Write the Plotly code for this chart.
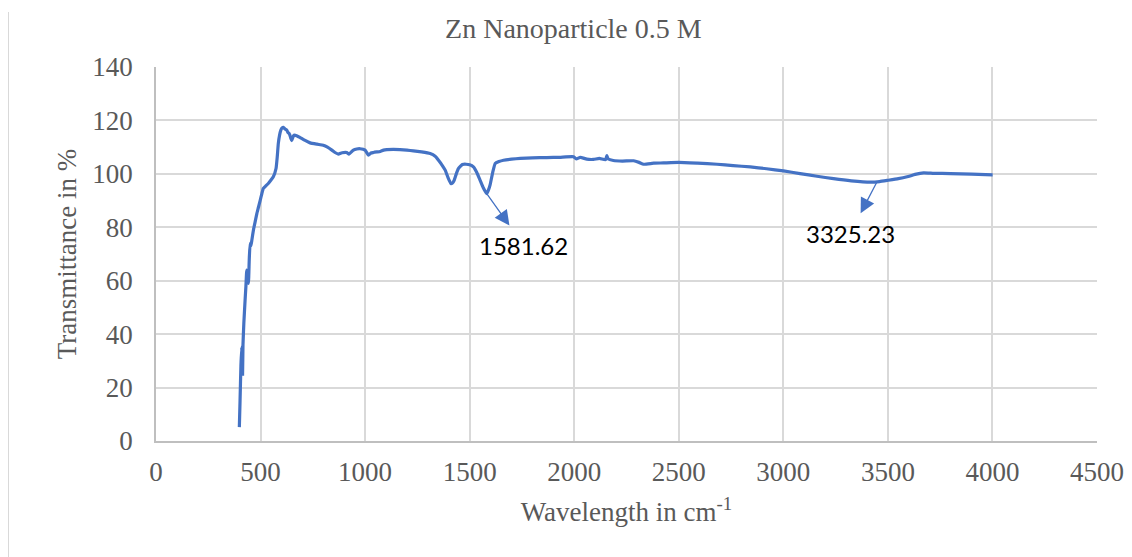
import numpy as np
import plotly.graph_objects as go

# Spectrum values
wavenumber = [398.6, 402, 406, 410, 414, 416, 420, 426, 430, 434, 438, 442, 446, 450, 454, 458,
              466, 474, 482, 490, 498, 506, 513, 525, 537, 549, 561, 574, 580, 585, 591, 597,
              603, 609, 617, 625, 631, 638, 644, 649, 655, 660, 675, 689, 713, 737, 770, 800,
              820, 841, 856, 872, 890, 912, 923, 944, 960, 976, 1000, 1016, 1028, 1040, 1056,
              1072, 1088, 1104, 1135, 1167, 1200, 1231, 1270, 1311, 1335, 1351, 1367, 1383,
              1397, 1410, 1418, 1426, 1436, 1446, 1465, 1483, 1500, 1518, 1534, 1550, 1565,
              1581.62, 1590, 1598, 1610, 1622, 1640, 1662, 1700, 1742, 1800, 1869, 1930, 1997,
              2010, 2029, 2060, 2092, 2120, 2150, 2156, 2162, 2187, 2230, 2284, 2310, 2332,
              2380, 2427, 2499, 2590, 2683, 2760, 2842, 2920, 3001, 3080, 3161, 3240, 3325.23,
              3416, 3460, 3501, 3550, 3592, 3630, 3671, 3720, 3799, 3900, 4001]
transmittance = [5.2, 15.2, 28.0, 35.2, 25.0, 36.0, 44.0, 52.7, 58.0, 64.0, 61.0, 59.0, 68.0,
                 74.0, 73.0, 75.0, 79.0, 82.0, 85.0, 87.5, 90.0, 92.5, 94.5, 95.5, 96.4, 97.6,
                 98.9, 102.0, 106.5, 111.4, 114.5, 116.4, 117.2, 117.4, 116.8, 116.4, 115.5,
                 115.0, 113.5, 112.4, 113.8, 114.5, 114.2, 113.6, 112.5, 111.6, 111.1, 110.7,
                 110.0, 108.9, 108.0, 107.4, 107.9, 108.0, 107.4, 108.9, 109.3, 109.4, 108.9,
                 107.0, 107.8, 108.0, 108.2, 108.4, 108.9, 109.1, 109.2, 109.1, 108.9, 108.6,
                 108.2, 107.6, 106.6, 105.1, 103.4, 101.4, 98.5, 96.4, 96.6, 97.6, 100.0, 102.0,
                 103.5, 103.6, 103.4, 102.6, 100.5, 97.6, 94.8, 92.6, 94.0, 96.0, 100.5, 103.9,
                 104.6, 105.1, 105.5, 105.8, 106.0, 106.1, 106.2, 106.4, 105.6, 106.2, 105.5,
                 105.4, 105.8, 105.3, 106.8, 105.6, 105.0, 104.8, 104.9, 104.3, 103.6, 104.0,
                 104.1, 104.3, 104.0, 103.6, 103.1, 102.6, 101.9, 101.1, 100.1, 99.1, 98.2,
                 97.4, 96.9, 97.1, 97.6, 98.2, 98.9, 99.8, 100.4, 100.2, 100.1, 99.9, 99.6]

# Peak labels
peak_labels = ["1581.62", "3325.23"]
peak_arrow_x = [1581.62, 3448]

x_ticks = [0, 500, 1000, 1500, 2000, 2500, 3000, 3500, 4000, 4500]
y_ticks = [0, 20, 40, 60, 80, 100, 120, 140]

BLUE = "#4472C4"
SERIF = "Liberation Serif, Times New Roman, serif"
TICK_COLOR = "#595959"

# page body has an 8px margin: the figure is sized/offset to compensate
W, H = 1124, 549
L, R, T, B = 148, 35, 59, 116
PW, PH = W - L - R, H - T - B

fig = go.Figure()
fig.add_trace(go.Scatter(x=wavenumber, y=transmittance, mode="lines",
                         line=dict(color=BLUE, width=3.2, shape="spline", smoothing=0.4),
                         showlegend=False, hoverinfo="x+y"))

label_offsets = [(37, 52), (-27, 52)]
for lab, ax_x, (dx, dy) in zip(peak_labels, peak_arrow_x, label_offsets):
    ty = float(np.interp(ax_x, wavenumber, transmittance))
    fig.add_annotation(x=ax_x, y=ty, ax=dx, ay=dy, text=lab, showarrow=True,
                       arrowside="start", startarrowhead=2, startarrowsize=2.3, arrowwidth=1.3,
                       arrowcolor=BLUE, standoff=0, startstandoff=5,
                       font=dict(family="Lato, Open Sans, sans-serif", size=24, color="#000000"))

fig.update_layout(
    width=W, height=H,
    margin=dict(l=L, r=R, t=T, b=B, autoexpand=False),
    paper_bgcolor="white", plot_bgcolor="white",
    title=dict(text="Zn Nanoparticle 0.5 M", x=0.503, xref="container", xanchor="center",
               y=1 - 20 / H, yref="container", yanchor="middle",
               font=dict(family=SERIF, size=28, color=TICK_COLOR)),
    xaxis=dict(range=[0, 4500], tickvals=x_ticks, ticktext=[str(v) for v in x_ticks],
               showgrid=True, gridcolor="#D9D9D9", gridwidth=1.5,
               showline=True, linecolor="#BFBFBF", linewidth=1.5, zeroline=False,
               ticks="", ticklabelstandoff=6, automargin=False,
               tickfont=dict(family=SERIF, size=27, color=TICK_COLOR),
               title=dict(text="Wavelength in cm<sup>-1</sup>", standoff=16,
                          font=dict(family=SERIF, size=27, color=TICK_COLOR))),
    yaxis=dict(range=[0, 140], tickvals=y_ticks, ticktext=[str(v) for v in y_ticks],
               showgrid=True, gridcolor="#D9D9D9", gridwidth=1.5,
               showline=True, linecolor="#BFBFBF", linewidth=1.5, zeroline=False,
               ticks="", ticklabelstandoff=16, automargin=False,
               tickfont=dict(family=SERIF, size=27, color=TICK_COLOR),
               title=dict(text="Transmittance in %", standoff=8,
                          font=dict(family=SERIF, size=27, color=TICK_COLOR))),
)

# chart-area left border visible in the reference (figure y=4px down to the bottom)
bx = (0 - L) / PW
fig.add_shape(type="line", xref="paper", yref="paper",
              x0=bx, x1=bx, y0=(H - B - 4) / PH, y1=-(B + 10) / PH,
              line=dict(color="#D9D9D9", width=2))

fig.write_html("out.html")
